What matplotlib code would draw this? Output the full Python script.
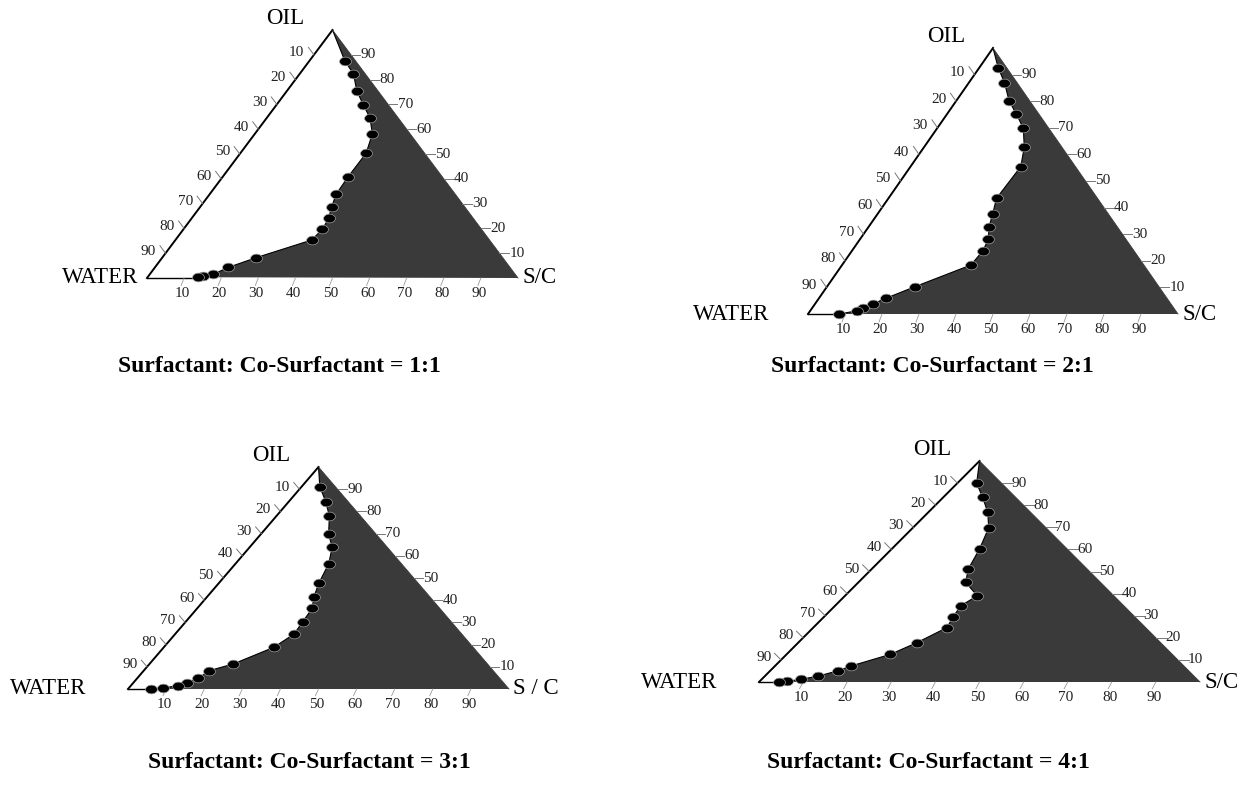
import numpy as np
import matplotlib
matplotlib.use("Agg")
import matplotlib.pyplot as plt

plt.rcParams['font.family'] = ['Liberation Serif', 'DejaVu Serif']

# boundary points (percent oil and percent S/C mix; water is the rest)
oil_11 = [87.5, 82.3, 75.5, 69.8, 64.6, 58.1, 50.3, 40.9, 33.7, 28.5, 24.1, 19.6, 15.3, 8.2, 4.3, 1.5, 0.9, 0.3]
smix_11 = [9.6, 14.5, 18.8, 23.4, 27.8, 31.7, 33.9, 33.8, 34.1, 35.5, 36.9, 37.5, 36.7, 25.3, 19.8, 17.1, 14.7, 13.7]

oil_21 = [92.6, 87.0, 80.1, 75.1, 69.8, 62.7, 55.4, 43.5, 37.6, 32.6, 28.1, 23.7, 18.4, 10.3, 5.9, 3.8, 2.1, 1.2, 0.0]
smix_21 = [5.1, 9.6, 14.3, 18.8, 23.3, 27.1, 29.8, 29.2, 31.1, 32.6, 34.7, 35.4, 34.8, 23.8, 18.1, 15.6, 13.8, 12.6, 8.5]

oil_31 = [91.1, 84.4, 77.9, 69.7, 63.8, 56.3, 47.9, 41.3, 36.3, 30.3, 24.8, 18.8, 11.3, 8.2, 4.8, 2.8, 1.5, 0.5, 0.0]
smix_31 = [4.8, 9.7, 13.9, 17.8, 21.7, 24.5, 26.2, 28.1, 30.2, 30.7, 31.2, 28.9, 22.0, 17.1, 16.1, 14.0, 12.4, 9.0, 6.0]

oil_41 = [89.9, 83.6, 76.9, 69.8, 60.2, 51.1, 45.1, 39.0, 34.5, 29.5, 24.6, 17.8, 12.5, 7.2, 5.1, 2.7, 1.2, 0.3, 0.0]
smix_41 = [4.4, 8.9, 13.4, 17.2, 19.9, 21.9, 24.3, 30.0, 28.5, 29.3, 30.3, 26.9, 23.5, 17.2, 15.4, 12.1, 8.9, 6.1, 4.5]

titles = ["Surfactant: Co-Surfactant = 1:1", "Surfactant: Co-Surfactant = 2:1",
          "Surfactant: Co-Surfactant = 3:1", "Surfactant: Co-Surfactant = 4:1"]
sc_labels = ["S/C", "S/C", "S / C", "S/C"]
ticks = [10, 20, 30, 40, 50, 60, 70, 80, 90]

W, H = 1247, 785
fig = plt.figure(figsize=(W / 100, H / 100), dpi=100)

# ellipse shaped marker, dots in the figure are wider than tall
t = np.linspace(0, 2 * np.pi, 40)
ell = list(zip(1.35 * np.cos(t), np.sin(t)))


def tern(oil, smix):
    oil = np.asarray(oil, dtype=float)
    smix = np.asarray(smix, dtype=float)
    return smix + oil / 2, oil


def draw_panel(box, oil, smix, sc_label, water_gap):
    x0, x1, ytop, ybase = box
    ax = fig.add_axes([x0 / W, 1 - ybase / H, (x1 - x0) / W, (ybase - ytop) / H])
    ax.set_xlim(0, 100)
    ax.set_ylim(0, 100)
    ax.axis('off')

    x, y = tern(oil, smix)
    # dark region: from apex down the boundary, then to S/C corner
    px = np.concatenate([[50], x, [100]])
    py = np.concatenate([[100], y, [0]])
    ax.fill(px, py, color='#3a3a3a', lw=0, clip_on=False)
    ax.plot(px[:-1], py[:-1], color='black', lw=0.8, clip_on=False)
    ax.plot(x, y, ls='none', marker=ell, ms=8.5, mfc='black', mec='#a0a0a0',
            mew=0.5, clip_on=False, zorder=5)

    # triangle outline
    ax.plot([0, 50], [0, 100], color='black', lw=1.4, clip_on=False)
    ax.plot([0, x[-1]], [0, 0], color='black', lw=1.0, clip_on=False)
    ax.plot([50, 100], [100, 0], color='#3a3a3a', lw=0.6, clip_on=False)

    for v in ticks:
        # left edge (water)
        lx, ly = 50 - v / 2, 100 - v
        ax.plot([lx, lx - 1.5], [ly, ly + 3], color='#777777', lw=0.7, clip_on=False)
        ax.annotate(str(v), (lx, ly), xytext=(-12.5, 1.5), textcoords='offset points',
                    ha='center', va='center', fontsize=11, color='#222222')
        # right edge (oil)
        rx, ry = 100 - v / 2, v
        ax.plot([rx, rx + 2.5], [ry, ry], color='#777777', lw=0.7, clip_on=False)
        ax.annotate(str(v), (rx, ry), xytext=(12.5, 0), textcoords='offset points',
                    ha='center', va='center', fontsize=11, color='#222222')
        # bottom edge (S/C)
        ax.plot([v, v - 0.8], [0, -3], color='#999999', lw=0.6, clip_on=False)
        ax.annotate(str(v), (v, 0), xytext=(-1.5, -11), textcoords='offset points',
                    ha='center', va='center', fontsize=11, color='#222222')

    ax.annotate("OIL", (50, 100), xytext=(-34, 8), textcoords='offset points',
                ha='center', va='center', fontsize=16.5)
    ax.annotate("WATER", (0, 0), xytext=(-water_gap, 0), textcoords='offset points',
                ha='right', va='center', fontsize=16.5)
    ax.annotate(sc_label, (100, 0), xytext=(3, 0), textcoords='offset points',
                ha='left', va='center', fontsize=16.5)
    return ax


draw_panel((147, 518, 30, 278), oil_11, smix_11, sc_labels[0], 6)
draw_panel((808, 1178, 48, 314), oil_21, smix_21, sc_labels[1], 28)
draw_panel((128, 509, 467, 689), oil_31, smix_31, sc_labels[2], 30)
draw_panel((759, 1200, 461, 682), oil_41, smix_41, sc_labels[3], 30)

title_pos = [(279, 372), (932, 372), (309, 768), (928, 768)]
for (tx, ty), s in zip(title_pos, titles):
    fig.text(tx / W, 1 - ty / H, s, ha='center', va='baseline',
             fontsize=17, fontweight='bold')

fig.savefig("out.png", dpi=100)
